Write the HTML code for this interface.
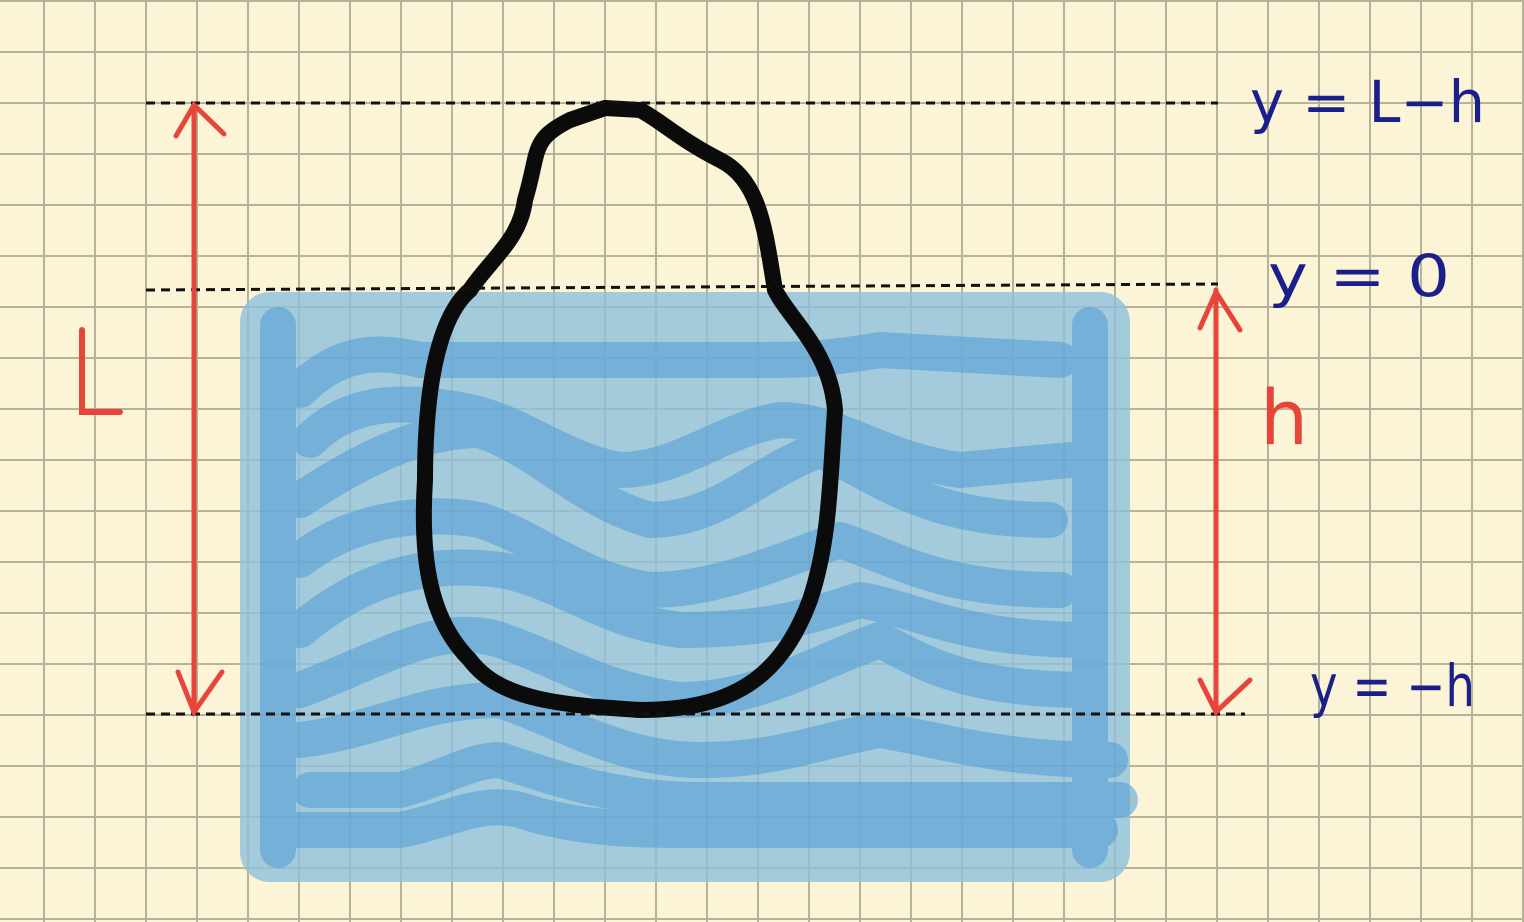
<!DOCTYPE html>
<html><head><meta charset="utf-8">
<style>
html,body{margin:0;padding:0;background:#fbf4d6;}
svg{display:block;}
text{font-family:"DejaVu Sans","Liberation Sans",sans-serif;}
</style></head>
<body>
<svg id="s" width="1524" height="922" viewBox="0 0 1524 922">
<rect x="0" y="0" width="1524" height="922" fill="#fbf4d6"/>
<g id="grid" stroke="#b9b29a" stroke-width="2"></g>
<rect x="240" y="292" width="890" height="590" rx="30" fill="#8fc0dc" opacity="0.8"/>
<g id="waves" fill="none" stroke="#4e9bd6" stroke-width="36" stroke-linecap="round" stroke-linejoin="round" opacity="0.55"></g>
<path d="M605,108 L640,110 C660,120 680,140 720,160 C760,180 765,230 775,290 C790,320 830,350 835,410 C830,480 830,540 810,600 C780,680 730,710 640,710 C560,705 500,700 470,660 C430,620 420,560 425,480 C425,400 435,320 470,290 C490,260 520,240 525,200 C540,150 530,140 570,120 Z" fill="none" stroke="#0b0b0b" stroke-width="16" stroke-linejoin="round"/>
<g stroke="#111" stroke-width="3" stroke-dasharray="9,6">
<line x1="146" y1="103" x2="1218" y2="103"/>
<line x1="146" y1="290" x2="1218" y2="284"/>
<line x1="146" y1="714" x2="1245" y2="714"/>
</g>
<g stroke="#e8453a" stroke-width="5" fill="none" stroke-linecap="round">
<path d="M194,105 L194,712 M176,136 L194,105 L224,134 M178,672 L194,712 L222,672"/>
<path d="M1216,290 L1216,712 M1200,328 L1216,292 L1240,330 M1200,680 L1216,712 L1250,680"/>
<path d="M82,330 L82,412 L120,412" stroke-width="6"/>
</g>
<text x="1260" y="444" fill="#e8453a" font-size="76">h</text>
<g fill="#1a1f8a" font-size="58">
<text x="1250" y="122" textLength="235" lengthAdjust="spacingAndGlyphs">y = L−h</text>
<text x="1268" y="296" textLength="182" lengthAdjust="spacingAndGlyphs">y = 0</text>
<text x="1310" y="706" textLength="165" lengthAdjust="spacingAndGlyphs">y = −h</text>
</g>
</svg>
<script>
const gridXs=[-7,44,95,146,197,248,299,350,401,452,503,554,605,656,707,758,809,860,911,962,1013,1064,1115,1166,1217,1268,1319,1370,1421,1472,1523];
const gridYs=[1,52,103,154,205,256,307,358,409,460,511,562,613,664,715,766,817,868,919];
const g=document.getElementById('grid');
const ns='http://www.w3.org/2000/svg';
gridXs.forEach(x=>{const l=document.createElementNS(ns,'line');
l.setAttribute('x1',x);l.setAttribute('x2',x);l.setAttribute('y1',0);l.setAttribute('y2',922);


g.appendChild(l);});
gridYs.forEach(y=>{const l=document.createElementNS(ns,'line');
l.setAttribute('y1',y);l.setAttribute('y2',y);l.setAttribute('x1',0);l.setAttribute('x2',1524);


g.appendChild(l);});
const wavePaths=[
"M278,325 L278,850","M1090,325 L1090,850",
"M300,390 C340,350 380,350 420,360 L760,360 C800,360 820,360 880,350 L1060,360",
"M310,440 C350,400 400,400 460,410 C520,420 560,460 620,470 C680,470 720,430 780,420 C840,420 880,460 960,470 L1070,460",
"M300,500 C360,460 420,430 480,430 C540,450 580,500 650,520 C720,520 760,470 820,450 C870,470 920,520 1050,520",
"M300,560 C350,520 420,510 480,520 C540,540 580,580 650,590 C720,590 780,560 840,540 C900,560 940,590 1060,590",
"M300,630 C360,580 420,560 500,570 C560,580 600,620 680,630 C760,630 800,620 860,600 C920,610 960,640 1090,640",
"M300,690 C380,660 440,620 500,640 C560,660 600,690 680,700 C760,700 820,660 880,640 C920,660 960,690 1090,690",
"M300,740 C380,730 420,700 500,700 C560,720 620,760 700,760 C780,760 820,740 880,730 C940,740 1000,760 1110,760",
"M310,790 L400,790 C440,780 470,760 500,760 C560,780 620,800 700,800 L1120,800",
"M280,830 L400,830 C450,820 480,800 520,810 C580,830 640,830 700,830 L1100,830"
];
const w=document.getElementById('waves');
wavePaths.forEach(d=>{const p=document.createElementNS(ns,'path');p.setAttribute('d',d);


w.appendChild(p);});
</script>
</body></html>
